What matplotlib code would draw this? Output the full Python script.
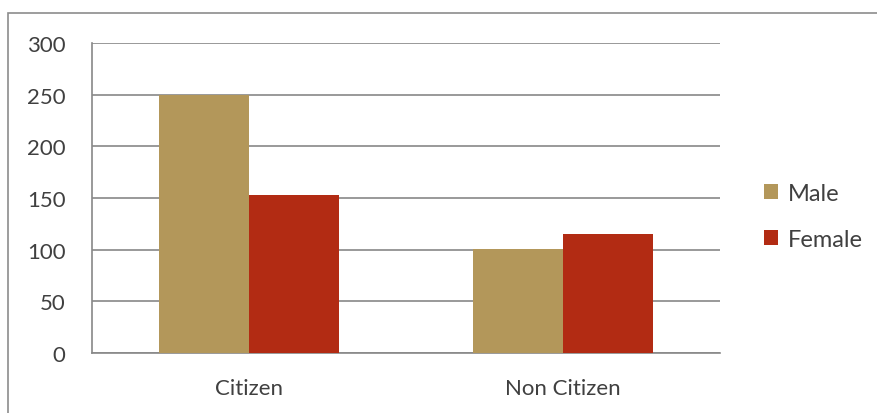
import numpy as np
import matplotlib
matplotlib.use("Agg")
import matplotlib.pyplot as plt
from matplotlib.patches import Rectangle

# Data
categories = ["Citizen", "Non Citizen"]
male = [250, 101]
female = [153, 115]
series_names = ["Male", "Female"]
y_ticks = [0, 50, 100, 150, 200, 250, 300]

MALE_COLOR = "#B3975A"
FEMALE_COLOR = "#B22B13"
GRID_COLOR = "#888888"
TEXT_COLOR = "#404040"

plt.rcParams["font.family"] = ["Lato", "DejaVu Sans"]

fig = plt.figure(figsize=(8.78, 4.14), dpi=100)
ax = fig.add_axes([92 / 878, 1 - 354 / 414, 628 / 878, 310 / 414])

# outer chart border
fig.patches.append(Rectangle((8 / 878, -0.05), 1.0, 1 - 14 / 414 + 0.05,
                             transform=fig.transFigure, fill=False,
                             edgecolor="#8c8c8c", linewidth=1.2))

x = np.arange(len(categories))
w = 0.287
ax.bar(x - w / 2, male, w, color=MALE_COLOR, label=series_names[0], zorder=3)
ax.bar(x + w / 2, female, w, color=FEMALE_COLOR, label=series_names[1], zorder=3)

ax.set_xlim(-0.5, 1.5)
ax.set_ylim(0, 300)
ax.set_yticks(y_ticks)
ax.set_xticks(x)
ax.set_xticklabels(categories)
ax.yaxis.grid(True, color=GRID_COLOR, linewidth=1.2, zorder=0)
ax.set_axisbelow(True)

for side in ["top", "right"]:
    ax.spines[side].set_visible(False)
for side in ["left", "bottom"]:
    ax.spines[side].set_color(GRID_COLOR)
    ax.spines[side].set_linewidth(1.2)

ax.tick_params(axis="both", length=0, labelsize=16, colors=TEXT_COLOR)
ax.tick_params(axis="y", pad=19)
ax.tick_params(axis="x", pad=18)

ax.legend(loc="center left", bbox_to_anchor=(764 / 878, 1 - 217.5 / 414),
          bbox_transform=fig.transFigure, frameon=False, borderpad=0,
          borderaxespad=0, fontsize=17, labelcolor=TEXT_COLOR,
          handlelength=0.6, handleheight=0.6, handletextpad=0.4,
          labelspacing=1.05)

fig.savefig("out.png", dpi=100)
